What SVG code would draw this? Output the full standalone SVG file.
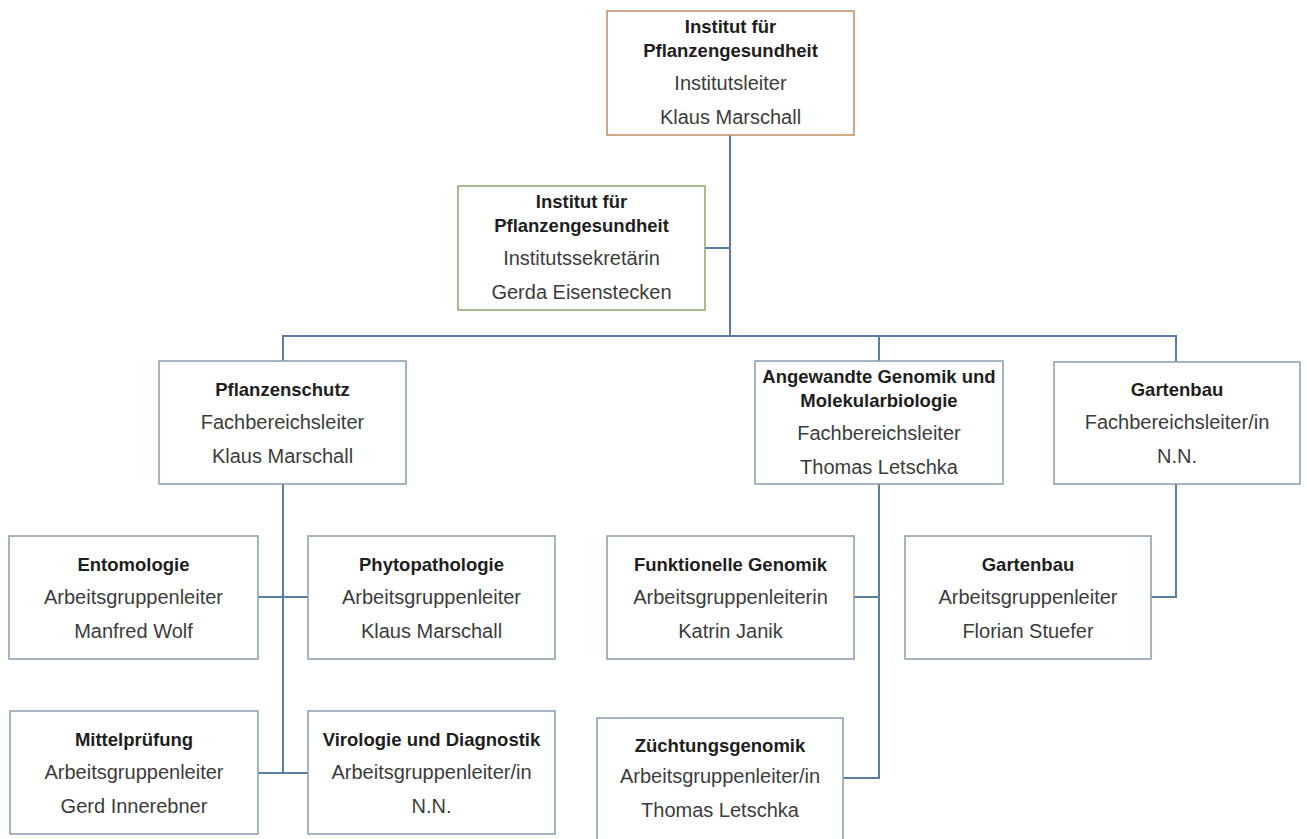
<svg xmlns="http://www.w3.org/2000/svg" width="1307" height="839" viewBox="0 0 1307 839">
<style>
  .box { fill: #ffffff; stroke: #8fa2b5; stroke-width: 1.6; }
  .box.head { stroke: #c9936a; }
  .box.sec { stroke: #93ab78; }
  .conn { fill: none; stroke: #5a7ea3; stroke-width: 2; }
  text { font-family: "Liberation Sans", Arial, sans-serif; text-anchor: middle; }
  .t { font-size: 18.5px; font-weight: bold; fill: #1e1e1e; }
  .r { font-size: 20px; fill: #3c3c3c; }
</style>
<rect width="1307" height="839" fill="#ffffff"/>
<g id="connectors">
  <path class="conn" d="M730,135 V336"/>
  <path class="conn" d="M705,248 H730"/>
  <path class="conn" d="M283,361 V336 H1176 V362"/>
  <path class="conn" d="M879,336 V361"/>
  <path class="conn" d="M283,484 V773"/>
  <path class="conn" d="M258,597 H308"/>
  <path class="conn" d="M258,773 H308"/>
  <path class="conn" d="M879,484 V778 H843"/>
  <path class="conn" d="M854,597 H879"/>
  <path class="conn" d="M1176,484 V597 H1151"/>
</g>
<g id="node-institut">
  <rect class="box head" x="607" y="11" width="247" height="124"/>
  <text class="t" x="730.5" y="33">Institut für</text>
  <text class="t" x="730.5" y="57">Pflanzengesundheit</text>
  <text class="r" x="730.5" y="90">Institutsleiter</text>
  <text class="r" x="730.5" y="124">Klaus Marschall</text>
</g>
<g id="node-sekretariat">
  <rect class="box sec" x="458" y="186" width="247" height="124"/>
  <text class="t" x="581.5" y="208">Institut für</text>
  <text class="t" x="581.5" y="232">Pflanzengesundheit</text>
  <text class="r" x="581.5" y="265">Institutssekretärin</text>
  <text class="r" x="581.5" y="299">Gerda Eisenstecken</text>
</g>
<g id="node-pflanzenschutz">
  <rect class="box" x="159" y="361" width="247" height="123"/>
  <text class="t" x="282.5" y="396">Pflanzenschutz</text>
  <text class="r" x="282.5" y="429">Fachbereichsleiter</text>
  <text class="r" x="282.5" y="463">Klaus Marschall</text>
</g>
<g id="node-genomik">
  <rect class="box" x="755" y="361" width="248" height="123"/>
  <text class="t" x="879" y="383">Angewandte Genomik und</text>
  <text class="t" x="879" y="407">Molekularbiologie</text>
  <text class="r" x="879" y="440">Fachbereichsleiter</text>
  <text class="r" x="879" y="474">Thomas Letschka</text>
</g>
<g id="node-gartenbau">
  <rect class="box" x="1054" y="362" width="246" height="122"/>
  <text class="t" x="1177" y="396">Gartenbau</text>
  <text class="r" x="1177" y="429">Fachbereichsleiter/in</text>
  <text class="r" x="1177" y="463">N.N.</text>
</g>
<g id="node-entomologie">
  <rect class="box" x="9" y="536" width="249" height="123"/>
  <text class="t" x="133.5" y="571">Entomologie</text>
  <text class="r" x="133.5" y="604">Arbeitsgruppenleiter</text>
  <text class="r" x="133.5" y="638">Manfred Wolf</text>
</g>
<g id="node-phytopathologie">
  <rect class="box" x="308" y="536" width="247" height="123"/>
  <text class="t" x="431.5" y="571">Phytopathologie</text>
  <text class="r" x="431.5" y="604">Arbeitsgruppenleiter</text>
  <text class="r" x="431.5" y="638">Klaus Marschall</text>
</g>
<g id="node-funktionelle-genomik">
  <rect class="box" x="607" y="536" width="247" height="123"/>
  <text class="t" x="730.5" y="571">Funktionelle Genomik</text>
  <text class="r" x="730.5" y="604">Arbeitsgruppenleiterin</text>
  <text class="r" x="730.5" y="638">Katrin Janik</text>
</g>
<g id="node-gartenbau-ag">
  <rect class="box" x="905" y="536" width="246" height="123"/>
  <text class="t" x="1028" y="571">Gartenbau</text>
  <text class="r" x="1028" y="604">Arbeitsgruppenleiter</text>
  <text class="r" x="1028" y="638">Florian Stuefer</text>
</g>
<g id="node-mittelpruefung">
  <rect class="box" x="10" y="711" width="248" height="123"/>
  <text class="t" x="134" y="746">Mittelprüfung</text>
  <text class="r" x="134" y="779">Arbeitsgruppenleiter</text>
  <text class="r" x="134" y="813">Gerd Innerebner</text>
</g>
<g id="node-virologie">
  <rect class="box" x="308" y="711" width="247" height="123"/>
  <text class="t" x="431.5" y="746">Virologie und Diagnostik</text>
  <text class="r" x="431.5" y="779">Arbeitsgruppenleiter/in</text>
  <text class="r" x="431.5" y="813">N.N.</text>
</g>
<g id="node-zuechtungsgenomik">
  <rect class="box" x="597" y="718" width="246" height="130"/>
  <text class="t" x="720" y="752">Züchtungsgenomik</text>
  <text class="r" x="720" y="783">Arbeitsgruppenleiter/in</text>
  <text class="r" x="720" y="817">Thomas Letschka</text>
</g>
</svg>
